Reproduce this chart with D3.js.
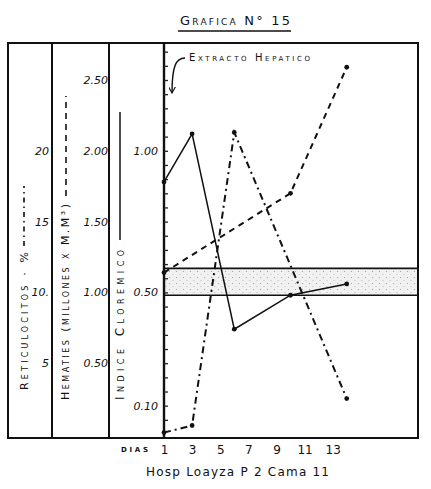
<!DOCTYPE html>
<html>
<head>
<meta charset="utf-8">
<script src="https://cdn.jsdelivr.net/npm/d3@7"></script>
<style>
  body { margin: 0; background: #fff; }
  svg { display: block; }
  text { font-family: "DejaVu Sans", sans-serif; fill: #111; }
  .sc { font-variant: small-caps; }
  .num { font-style: italic; }
</style>
</head>
<body>
<script>
'use strict'

// days on the x axis
var dayTicks = [1, 3, 5, 7, 9, 11, 13]

// Indice cloremico (solid)
var cloremicoDays = [1, 3, 6, 10, 14]
var cloremico = [0.89, 1.06, 0.37, 0.49, 0.53]

// Hematies, millones x mm3 (dashed)
var hematiesDays = [1, 10, 14]
var hematies = [1.14, 1.70, 2.59]

// Reticulocitos % (dash-dot)
var reticDays = [1, 3, 6, 14]
var retic = [0.1, 0.6, 21.3, 2.5]

// normal band of the indice cloremico
var band = [0.49, 0.585]

var reticTicks = [5, 10, 15, 20]
var reticLabels = ['5', '10.', '15', '20']
var hematiesTicks = [0.5, 1, 1.5, 2, 2.5]
var cloremicoTicks = [0.1, 0.5, 1]

var W = 431, H = 489
var frame = { left: 8, right: 418, top: 43, bottom: 438 }
var plotLeft = 164
var dividers = [52, 109]

var svg = d3.select('body').append('svg')
  .attr('width', W)
  .attr('height', H)

var x = d3.scaleLinear().domain([1, 19]).range([plotLeft, 417])
var yH = d3.scaleLinear().domain([0, 2.5]).range([434, 80])
var yR = d3.scaleLinear().domain([0, 25]).range([434, 80])
var yC = d3.scaleLinear().domain([0, 1.25]).range([434, 80])

// stipple for the band
var defs = svg.append('defs')
var pat = defs.append('pattern')
  .attr('id', 'stipple')
  .attr('width', 7).attr('height', 6)
  .attr('patternUnits', 'userSpaceOnUse')
pat.append('rect').attr('width', 7).attr('height', 6).attr('fill', '#f1f1f1')
pat.append('circle').attr('cx', 1.5).attr('cy', 1.5).attr('r', 0.6).attr('fill', '#999')
pat.append('circle').attr('cx', 5).attr('cy', 4.5).attr('r', 0.5).attr('fill', '#aaa')

defs.append('marker')
  .attr('id', 'arrow')
  .attr('viewBox', '0 0 10 10')
  .attr('refX', 9).attr('refY', 5)
  .attr('markerWidth', 7).attr('markerHeight', 7)
  .attr('markerUnits', 'userSpaceOnUse')
  .attr('orient', 'auto')
  .append('path')
  .attr('d', 'M0,0 L9,5 L0,10')
  .attr('fill', 'none')
  .attr('stroke', '#111')
  .attr('stroke-width', 1.6)

// title
svg.append('text')
  .attr('class', 'sc')
  .attr('x', 180).attr('y', 25)
  .attr('textLength', 110)
  .attr('font-size', 13)
  .text('Grafica N° 15')
svg.append('line')
  .attr('x1', 178).attr('x2', 291)
  .attr('y1', 31).attr('y2', 31)
  .attr('stroke', '#111').attr('stroke-width', 1.5)

// band
svg.append('rect')
  .attr('x', plotLeft).attr('width', frame.right - plotLeft)
  .attr('y', yC(band[1])).attr('height', yC(band[0]) - yC(band[1]))
  .attr('fill', 'url(#stipple)')
band.forEach(function (b) {
  svg.append('line')
    .attr('x1', plotLeft).attr('x2', frame.right)
    .attr('y1', yC(b)).attr('y2', yC(b))
    .attr('stroke', '#111').attr('stroke-width', 1.6)
})

// frame and column dividers
svg.append('rect')
  .attr('x', frame.left).attr('y', frame.top)
  .attr('width', frame.right - frame.left)
  .attr('height', frame.bottom - frame.top)
  .attr('fill', 'none').attr('stroke', '#111').attr('stroke-width', 2)
dividers.concat([plotLeft]).forEach(function (dx) {
  svg.append('line')
    .attr('x1', dx).attr('x2', dx)
    .attr('y1', frame.top).attr('y2', frame.bottom)
    .attr('stroke', '#111').attr('stroke-width', dx === plotLeft ? 2.4 : 2)
})

// little ticks inside the plot, every 0.1 of hematies
svg.append('g')
  .attr('transform', 'translate(' + plotLeft + ',0)')
  .call(d3.axisRight(yH).tickValues(d3.range(1, 28).map(function (i) { return i / 10 })).tickSize(4).tickFormat(''))
  .call(function (g) { g.select('.domain').remove() })
  .call(function (g) { g.selectAll('line').attr('stroke', '#222').attr('stroke-width', 1.3) })

// label columns
function labelAxis (scale, values, fmt, xPos) {
  svg.append('g')
    .attr('class', 'num')
    .attr('transform', 'translate(' + xPos + ',0)')
    .call(d3.axisLeft(scale).tickValues(values).tickSize(0).tickPadding(0).tickFormat(fmt))
    .call(function (g) { g.select('.domain').remove() })
    .call(function (g) { g.selectAll('text').attr('font-size', 11).attr('fill', '#111').attr('font-family', '"DejaVu Sans", sans-serif') })
}
labelAxis(yR, reticTicks, function (d, i) { return reticLabels[i] }, 49)
labelAxis(yH, hematiesTicks, d3.format('.2f'), 108)
labelAxis(yC, cloremicoTicks, d3.format('.2f'), 158)

// x axis
svg.append('g')
  .attr('transform', 'translate(0,' + frame.bottom + ')')
  .call(d3.axisBottom(x).tickValues(dayTicks).tickSize(0).tickPadding(7))
  .call(function (g) { g.select('.domain').remove() })
  .call(function (g) { g.selectAll('text').attr('font-size', 12).attr('fill', '#111').attr('font-family', '"DejaVu Sans", sans-serif') })

svg.append('text')
  .attr('class', 'sc')
  .attr('x', 121).attr('y', 452)
  .attr('textLength', 27)
  .attr('font-size', 10)
  .attr('font-weight', 'bold')
  .text('dias')

svg.append('text')
  .attr('x', 146).attr('y', 476)
  .attr('textLength', 183)
  .attr('font-size', 12)
  .text('Hosp Loayza P 2 Cama 11')

// rotated legends in the columns
function vlabel (txt, cx, yStart, len, size) {
  svg.append('text')
    .attr('class', 'sc')
    .attr('transform', 'translate(' + cx + ',' + yStart + ') rotate(-90)')
    .attr('dy', '0.35em')
    .attr('textLength', len)
    .attr('font-size', size)
    .text(txt)
}
vlabel('Reticulocitos · %', 24, 390, 138, 11)
vlabel('Hematies (millones x M.M³)', 65, 400, 196, 11)
vlabel('Indice Cloremico', 120, 400, 150, 12)

svg.append('line')
  .attr('x1', 24).attr('x2', 24).attr('y1', 246).attr('y2', 186)
  .attr('stroke', '#111').attr('stroke-width', 1.6)
  .attr('stroke-dasharray', '5,4,1.5,4')
svg.append('line')
  .attr('x1', 66).attr('x2', 66).attr('y1', 196).attr('y2', 96)
  .attr('stroke', '#111').attr('stroke-width', 1.6)
  .attr('stroke-dasharray', '6,5')
svg.append('line')
  .attr('x1', 120).attr('x2', 120).attr('y1', 240).attr('y2', 112)
  .attr('stroke', '#111').attr('stroke-width', 1.5)

// series
function series (days, vals, yScale, dash, width) {
  var pts = days.map(function (d, i) { return [x(d), yScale(vals[i])] })
  svg.append('path')
    .attr('d', d3.line()(pts))
    .attr('fill', 'none')
    .attr('stroke', '#111')
    .attr('stroke-width', width)
    .attr('stroke-dasharray', dash)
  svg.selectAll(null)
    .data(pts)
    .enter().append('circle')
    .attr('cx', function (p) { return p[0] })
    .attr('cy', function (p) { return p[1] })
    .attr('r', 2.4)
    .attr('fill', '#111')
}
series(cloremicoDays, cloremico, yC, null, 1.5)
series(hematiesDays, hematies, yH, '6,5', 2)
series(reticDays, retic, yR, '7,4,2,4', 2)

// extracto hepatico note
svg.append('text')
  .attr('class', 'sc')
  .attr('x', 189).attr('y', 61)
  .attr('textLength', 121)
  .attr('font-size', 10)
  .text('Extracto Hepatico')
svg.append('path')
  .attr('d', 'M185,58 C176,58 172,66 172,93')
  .attr('fill', 'none')
  .attr('stroke', '#111')
  .attr('stroke-width', 1.4)
  .attr('marker-end', 'url(#arrow)')
</script>
</body>
</html>
